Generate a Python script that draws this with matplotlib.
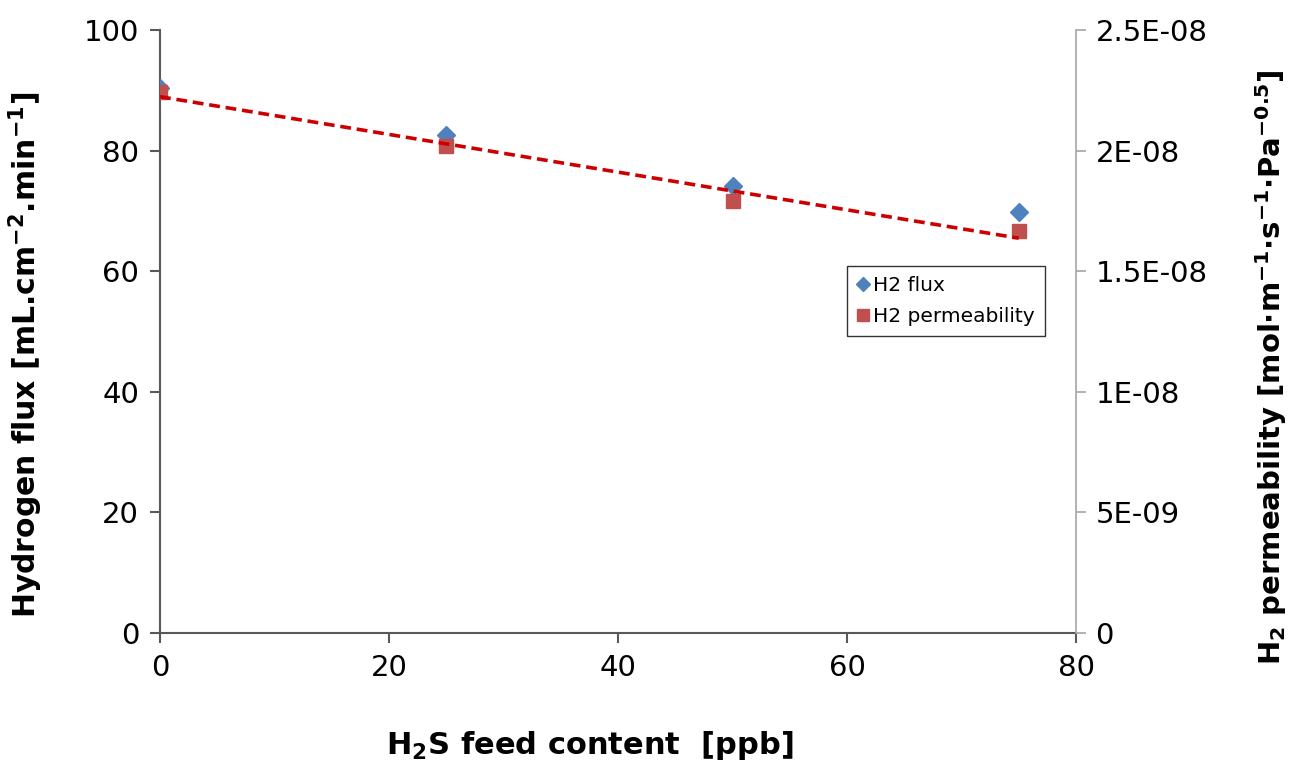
import numpy as np
import matplotlib
matplotlib.use("Agg")
import matplotlib.pyplot as plt
from matplotlib.lines import Line2D

plt.rcParams['font.family'] = ['DejaVu Sans']
plt.rcParams['mathtext.fontset'] = 'dejavusans'
plt.rcParams['mathtext.default'] = 'bf'

# Data
h2s_ppb = [0, 25, 50, 75]
h2_flux = [90.3, 82.6, 74.1, 69.8]                     # mL.cm-2.min-1
h2_perm = [2.243e-8, 2.020e-8, 1.790e-8, 1.668e-8]     # mol m-1 s-1 Pa-0.5

x_ticks = [0, 20, 40, 60, 80]
y_left_ticks = [0, 20, 40, 60, 80, 100]
y_right_ticks = [0, 5e-9, 1e-8, 1.5e-8, 2e-8, 2.5e-8]
y_right_labels = ['0', '5E-09', '1E-08', '1.5E-08', '2E-08', '2.5E-08']

fig = plt.figure(figsize=(12.92, 7.64), dpi=100)
ax = fig.add_axes([160/1292, 1-633/764, (1076-160)/1292, (633-30)/764])
ax2 = ax.twinx()

ax.set_xlim(0, 80)
ax.set_ylim(0, 100)
ax2.set_ylim(0, 2.5e-8)

# trend line (linear fit of permeability)
coef = np.polyfit(h2s_ppb, h2_perm, 1)
xf = np.array([h2s_ppb[0], h2s_ppb[-1]])
ax2.plot(xf, np.polyval(coef, xf), linestyle=(0, (3, 1.6)), color='#CC0000',
         linewidth=2.6, zorder=4)

ax.plot(h2s_ppb, h2_flux, linestyle='none', marker='D', markersize=9,
        color='#4F81BD', markeredgecolor='#4F81BD', zorder=3)
ax2.plot(h2s_ppb, h2_perm, linestyle='none', marker='s', markersize=10,
         color='#C0504D', markeredgecolor='#C0504D', zorder=3)

ax.set_xticks(x_ticks)
ax.set_yticks(y_left_ticks)
ax2.set_yticks(y_right_ticks)
ax2.set_yticklabels(y_right_labels)

for a in (ax, ax2):
    a.spines['top'].set_visible(False)
ax.spines['left'].set_color('#595959')
ax.spines['bottom'].set_color('#595959')
ax.spines['left'].set_linewidth(1.5)
ax.spines['bottom'].set_linewidth(1.5)
ax2.spines['left'].set_visible(False)
ax2.spines['bottom'].set_visible(False)
ax2.spines['right'].set_color('#A6A6A6')
ax2.spines['right'].set_linewidth(1.2)
ax.spines['right'].set_visible(False)

ax.tick_params(axis='both', direction='out', length=7, width=1.5, color='#595959',
               labelsize=21, pad=8)
ax2.tick_params(axis='y', direction='out', length=7, width=1.2, color='#A6A6A6',
                labelsize=21, pad=7)

ax.set_xlabel(r'H$_{2}$S feed content  [ppb]', fontsize=22, fontweight='bold')
ax.xaxis.set_label_coords((590-160)/916, -(729-633)/603)
ax.set_ylabel(r'Hydrogen flux [mL.cm$^{-2}$.min$^{-1}$]', fontsize=21.5, fontweight='bold')
ax.yaxis.set_label_coords(-(160-45)/916, (633-355)/603)
ax2.set_ylabel(r'H$_{2}$ permeability [mol$\cdot$m$^{-1}$$\cdot$s$^{-1}$$\cdot$Pa$^{-0.5}$]',
               fontsize=21, fontweight='bold', rotation=90)
ax2.yaxis.set_label_coords(1 + (1253-1076)/916, (633-367)/603)

handles = [Line2D([], [], linestyle='none', marker='D', markersize=7, color='#4F81BD'),
           Line2D([], [], linestyle='none', marker='s', markersize=9, color='#C0504D')]
leg = ax2.legend(handles, ['H2 flux', 'H2 permeability'], loc='upper left',
                 bbox_to_anchor=((847-160)/916, (633-266)/603), fontsize=14.5,
                 frameon=True, fancybox=False, handlelength=0.6, handletextpad=0.2,
                 borderpad=0.5, labelspacing=0.6, borderaxespad=0)
leg.get_frame().set_edgecolor('black')
leg.get_frame().set_linewidth(1.0)

fig.savefig('out.png', dpi=100, facecolor='white')
